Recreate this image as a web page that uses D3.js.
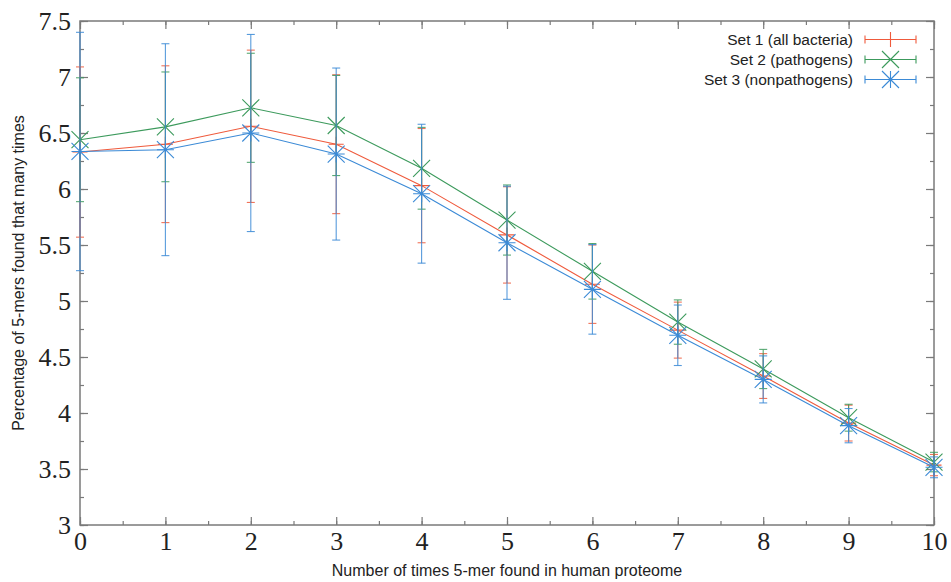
<!DOCTYPE html>
<html>
<head>
<meta charset="utf-8">
<script src="https://cdn.jsdelivr.net/npm/d3@7"></script>
<style>
  body { margin: 0; background: #fff; }
  .tick text { font-family: "Liberation Serif", "Times New Roman", serif; font-size: 26px; fill: #222; }
  .title { font-family: "Liberation Sans", Arial, sans-serif; font-size: 16px; fill: #222; }
  .legend text { font-family: "Liberation Sans", Arial, sans-serif; font-size: 15.5px; fill: #222; }
</style>
</head>
<body>
<svg id="chart" width="951" height="582"></svg>
<script>
// data
var timesFound = [0, 1, 2, 3, 4, 5, 6, 7, 8, 9, 10];

var set1Mean = [6.33, 6.40, 6.56, 6.40, 6.03, 5.59, 5.15, 4.74, 4.33, 3.91, 3.535];
var set1Err  = [0.76, 0.70, 0.68, 0.62, 0.51, 0.43, 0.35, 0.25, 0.20, 0.16, 0.095];

var set2Mean = [6.44, 6.555, 6.725, 6.567, 6.185, 5.723, 5.265, 4.812, 4.393, 3.958, 3.562];
var set2Err  = [0.553, 0.49, 0.487, 0.447, 0.365, 0.313, 0.248, 0.198, 0.175, 0.12, 0.087];

var set3Mean = [6.335, 6.351, 6.50, 6.312, 5.958, 5.52, 5.104, 4.694, 4.30, 3.887, 3.515];
var set3Err  = [1.064, 0.946, 0.88, 0.768, 0.62, 0.505, 0.40, 0.27, 0.21, 0.153, 0.093];

var seriesNames  = ["Set 1 (all bacteria)", "Set 2 (pathogens)", "Set 3 (nonpathogens)"];
var seriesColors = ["#ef5a3c", "#3c9a5c", "#3b8ad6"];
var seriesMarks  = ["plus", "cross", "star"];

var xTicks = [0, 1, 2, 3, 4, 5, 6, 7, 8, 9, 10];
var yTicks = [3, 3.5, 4, 4.5, 5, 5.5, 6, 6.5, 7, 7.5];

(function drawChart() {
  var svg = d3.select("#chart");
  var mLeft = 80, mRight = 934, mTop = 21, mBottom = 525;

  var x = d3.scaleLinear().domain([0, 10]).range([mLeft, mRight]);
  var y = d3.scaleLinear().domain([3, 7.5]).range([mBottom, mTop]);

  var axisColor = "#7a7a7a";

  // minor tick positions
  var xMinor = d3.range(0, 10.01, 0.5);
  var yMinor = d3.range(3, 7.51, 0.25);

  function styleAxis(g) {
    g.select(".domain").remove();
    g.selectAll(".tick line").attr("stroke", axisColor).attr("stroke-width", 1.2);
  }

  // minor ticks (all four sides)
  svg.append("g").attr("transform", "translate(0," + mBottom + ")")
    .call(d3.axisBottom(x).tickValues(xMinor).tickSize(-4).tickFormat(""))
    .call(styleAxis);
  svg.append("g").attr("transform", "translate(0," + mTop + ")")
    .call(d3.axisTop(x).tickValues(xMinor).tickSize(-4).tickFormat(""))
    .call(styleAxis);
  svg.append("g").attr("transform", "translate(" + mLeft + ",0)")
    .call(d3.axisLeft(y).tickValues(yMinor).tickSize(-4).tickFormat(""))
    .call(styleAxis);
  svg.append("g").attr("transform", "translate(" + mRight + ",0)")
    .call(d3.axisRight(y).tickValues(yMinor).tickSize(-4).tickFormat(""))
    .call(styleAxis);

  // major ticks with labels
  svg.append("g").attr("transform", "translate(0," + mBottom + ")")
    .call(d3.axisBottom(x).tickValues(xTicks).tickSize(-8).tickPadding(7).tickFormat(d3.format("d")))
    .call(styleAxis);
  svg.append("g").attr("transform", "translate(0," + mTop + ")")
    .call(d3.axisTop(x).tickValues(xTicks).tickSize(-8).tickFormat(""))
    .call(styleAxis);
  svg.append("g").attr("transform", "translate(" + mLeft + ",0)")
    .call(d3.axisLeft(y).tickValues(yTicks).tickSize(-8).tickPadding(9).tickFormat(d => d))
    .call(styleAxis);
  svg.append("g").attr("transform", "translate(" + mRight + ",0)")
    .call(d3.axisRight(y).tickValues(yTicks).tickSize(-8).tickFormat(""))
    .call(styleAxis);

  svg.selectAll(".tick text").attr("font-family", null).attr("font-size", null);

  // frame
  svg.append("rect")
    .attr("x", mLeft).attr("y", mTop)
    .attr("width", mRight - mLeft).attr("height", mBottom - mTop)
    .attr("fill", "none").attr("stroke", axisColor).attr("stroke-width", 1.5);

  // axis titles
  svg.append("text").attr("class", "title")
    .attr("x", (mLeft + mRight) / 2).attr("y", 576)
    .attr("text-anchor", "middle")
    .text("Number of times 5-mer found in human proteome");
  svg.append("text").attr("class", "title")
    .attr("transform", "translate(24," + (mTop + mBottom) / 2 + ") rotate(-90)")
    .attr("text-anchor", "middle")
    .text("Percentage of 5-mers found that many times");

  function markPath(type, s) {
    var p = "M" + (-s) + ",0H" + s + "M0," + (-s) + "V" + s;
    var c = "M" + (-s) + "," + (-s) + "L" + s + "," + s + "M" + (-s) + "," + s + "L" + s + "," + (-s);
    if (type == "plus") return p;
    if (type == "cross") return c;
    return p + c;
  }
  var markSize = { plus: 7.5, cross: 8.5, star: 8.5 };

  var series = [
    { mean: set1Mean, err: set1Err },
    { mean: set2Mean, err: set2Err },
    { mean: set3Mean, err: set3Err }
  ];

  var line = d3.line().x((d, i) => x(timesFound[i])).y(d => y(d));
  var cap = 4;

  series.forEach(function(s, k) {
    var col = seriesColors[k];
    var g = svg.append("g");
    g.append("path")
      .attr("d", line(s.mean))
      .attr("fill", "none").attr("stroke", col).attr("stroke-width", 1.1);

    var bars = g.selectAll(".bar").data(s.mean).enter().append("g")
      .attr("stroke", col).attr("stroke-width", 1.1).attr("stroke-opacity", 0.85);
    bars.append("line")
      .attr("x1", (d, i) => x(timesFound[i])).attr("x2", (d, i) => x(timesFound[i]))
      .attr("y1", (d, i) => y(d - s.err[i])).attr("y2", (d, i) => y(d + s.err[i]));
    bars.append("line")
      .attr("x1", (d, i) => x(timesFound[i]) - cap).attr("x2", (d, i) => x(timesFound[i]) + cap)
      .attr("y1", (d, i) => y(d + s.err[i])).attr("y2", (d, i) => y(d + s.err[i]));
    bars.append("line")
      .attr("x1", (d, i) => x(timesFound[i]) - cap).attr("x2", (d, i) => x(timesFound[i]) + cap)
      .attr("y1", (d, i) => y(d - s.err[i])).attr("y2", (d, i) => y(d - s.err[i]));

    g.selectAll(".mark").data(s.mean).enter().append("path")
      .attr("transform", (d, i) => "translate(" + x(timesFound[i]) + "," + y(d) + ")")
      .attr("d", markPath(seriesMarks[k], markSize[seriesMarks[k]]))
      .attr("fill", "none").attr("stroke", col).attr("stroke-width", 1.1);
  });

  // legend
  var legend = svg.append("g").attr("class", "legend");
  seriesNames.forEach(function(name, k) {
    var ly = 39.5 + k * 20;
    var col = seriesColors[k];
    legend.append("text")
      .attr("x", 853).attr("y", ly).attr("dy", "0.35em")
      .attr("text-anchor", "end").text(name);
    legend.append("path")
      .attr("d", "M865," + ly + "H916M865," + (ly - 4) + "V" + (ly + 4) + "M916," + (ly - 4) + "V" + (ly + 4))
      .attr("stroke", col).attr("stroke-width", 1.1).attr("fill", "none");
    legend.append("path")
      .attr("transform", "translate(890.5," + ly + ")")
      .attr("d", markPath(seriesMarks[k], markSize[seriesMarks[k]]))
      .attr("stroke", col).attr("stroke-width", 1.1).attr("fill", "none");
  });
})();
</script>
</body>
</html>
